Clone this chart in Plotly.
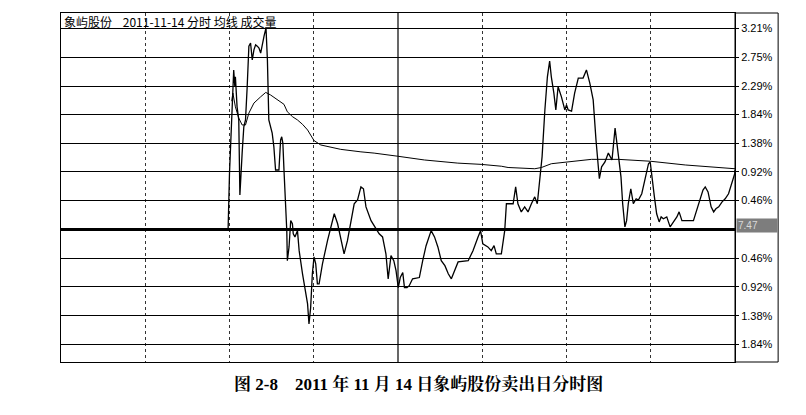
import plotly.graph_objects as go

# intraday price, % change vs previous close 7.47 (minutes from open)
price_min = [0, 59.5, 60.0, 60.8, 61.5, 61.9, 62.1, 62.7, 63.3, 63.7, 63.9, 64.5, 65.1, 65.7, 66.3, 66.9,
             67.5, 68.1, 68.7, 69.3, 69.9, 70.5, 71.1, 71.7, 72.3, 73.0, 73.5, 74.0, 75.2, 75.8, 76.4,
             77.6, 78.2, 78.6, 79.0, 79.4, 80.0, 80.4, 80.6, 81.2, 81.8, 82.4, 82.7, 83.3, 84.2, 84.8,
             86.0, 87.1, 87.8, 88.3, 88.9, 89.5, 90.1, 90.7, 91.3, 91.9, 93.1, 94.9, 96.1, 97.3, 98.5,
             99.6, 100.8, 102.0, 103.2, 104.4, 105.6, 106.8, 107.7, 108.6, 110.4, 111.5, 113.3, 114.5,
             115.7, 116.5, 117.5, 118.5, 119.3, 120.1, 120.8, 121.7, 122.3, 123.2, 124.0, 125.2, 127.6,
             128.8, 130.0, 131.8, 133.0, 134.2, 135.4, 136.7, 137.9, 139.0, 140.2, 141.4, 145.0, 146.7,
             148.5, 149.4, 150.2, 152.0, 153.2, 154.2, 155.0, 156.8, 158.0, 158.6, 161.0, 161.9, 162.7,
             163.9, 165.1, 166.3, 167.5, 168.7, 169.6, 170.5, 171.3, 172.3, 173.2, 174.0, 174.6, 175.5,
             176.2, 177.0, 178.2, 179.4, 180.0, 180.6, 181.8, 182.9, 184.2, 185.9, 187.1, 188.3, 189.5,
             190.5, 191.1, 191.7, 192.5, 193.7, 194.9, 195.5, 196.2, 197.3, 197.9, 198.5, 199.4, 200.0,
             200.8, 201.4, 202.0, 202.9, 203.8, 204.8, 205.6, 206.8, 207.9, 209.2, 209.8, 210.4, 211.3,
             212.1, 213.0, 213.7, 214.5, 215.7, 216.9, 218.1, 219.3, 220.1, 221.1, 225.2, 227.0, 228.6,
             229.4, 230.4, 231.5, 232.4, 233.2, 234.2, 235.4, 236.5, 237.7, 238.9, 239.9, 240]
price_pct = [0, 0, 0.90, 1.90, 2.55, 2.28, 2.44, 1.96, 1.75, 0.55, 0.79, 1.22, 1.64, 1.75, 2.28, 2.93,
             2.98, 2.71, 2.87, 2.95, 2.93, 2.90, 2.82, 2.98, 3.09, 3.22, 2.71, 1.75, 1.54, 1.32, 0.95,
             0.95, 1.43, 1.48, 1.38, 0.95, 0.41, -0.02, -0.50, -0.28, 0.14, 0.09, -0.07, -0.12, -0.02, -0.34,
             -0.71, -0.98, -1.19, -1.51, -1.25, -0.71, -0.44, -0.55, -0.87, -0.87, -0.55, -0.18, 0.04, 0.25, 0.09,
             -0.12, -0.39, -0.18, 0.09, 0.41, 0.47, 0.68, 0.65, 0.36, 0.14, 0.06, -0.07, -0.12,
             -0.39, -0.79, -0.42, -0.50, -0.66, -0.93, -0.77, -0.69, -0.93, -0.93, -0.90, -0.79, -0.77,
             -0.50, -0.26, -0.02, -0.12, -0.28, -0.50, -0.58, -0.71, -0.79, -0.66, -0.52, -0.50, -0.34,
             -0.12, -0.02, -0.23, -0.28, -0.34, -0.26, -0.39, -0.39, -0.02, 0.41, 0.41, 0.68, 0.41,
             0.28, 0.36, 0.28, 0.41, 0.52, 0.41, 0.79, 1.16, 1.91, 2.44, 2.69, 2.44, 2.18,
             1.91, 2.28, 2.12, 1.91, 1.99, 1.91, 1.89, 2.18, 2.42, 2.42, 2.55, 2.34, 2.07,
             1.43, 1.11, 0.81, 1.00, 1.08, 1.22, 1.16, 1.11, 1.62, 1.40, 1.16, 0.84, 0.41,
             0.04, 0.14, 0.41, 0.65, 0.41, 0.49, 0.47, 0.57, 0.79, 1.05, 1.08, 0.89, 0.52,
             0.25, 0.12, 0.20, 0.17, 0.20, 0.04, 0.12, 0.20, 0.28, 0.14, 0.14, 0.41, 0.63,
             0.68, 0.60, 0.36, 0.28, 0.33, 0.36, 0.44, 0.49, 0.57, 0.73, 0.89, 0.95]

# average price line
avg_min = [60.8, 61.2, 62.1, 63.3, 64.5, 65.7, 66.9, 68.7, 71.1, 72.9, 74.6, 77.0, 79.4, 80.6, 82.5,
           84.2, 86.0, 87.8, 90.1, 92.5, 97.3, 99.6, 106.8, 111.5, 119.9, 129.4, 141.3, 149.6, 156.8,
           159.2, 168.7, 171.1, 174.6, 180.6, 188.9, 198.5, 209.8, 222.3, 240]
avg_pct = [2.05, 2.18, 1.96, 1.78, 1.67, 1.67, 1.86, 2.02, 2.12, 2.19, 2.15, 2.08, 2.00, 1.88, 1.80,
           1.75, 1.68, 1.59, 1.42, 1.35, 1.30, 1.28, 1.24, 1.22, 1.17, 1.11, 1.06, 1.04, 1.01,
           0.99, 0.97, 0.99, 1.05, 1.08, 1.12, 1.12, 1.09, 1.03, 0.97]

tick_vals = [3.21, 2.75, 2.29, 1.84, 1.38, 0.92, 0.46, -0.46, -0.92, -1.38, -1.84]
tick_text = ["3.21%", "2.75%", "2.29%", "1.84%", "1.38%", "0.92%", "0.46%",
             "0.46%", "0.92%", "1.38%", "1.84%"]
prev_close = "7.47"
midday = 120

fig = go.Figure()
fig.add_trace(go.Scatter(x=price_min, y=price_pct, mode="lines",
                         line=dict(color="black", width=1.3), showlegend=False))
fig.add_trace(go.Scatter(x=avg_min, y=avg_pct, mode="lines",
                         line=dict(color="black", width=1), showlegend=False))

# solid midday divider
fig.add_vline(x=midday, line=dict(color="black", width=1.2))

# right-hand label column frame
fig.add_shape(type="rect", xref="paper", yref="paper", x0=1, x1=1.064, y0=0, y1=1,
              line=dict(color="black", width=1))

fig.add_annotation(text="象屿股份    2011-11-14 分时 均线 成交量", xref="paper", yref="paper",
                   x=0.002, y=1.005, xanchor="left", yanchor="top", showarrow=False,
                   font=dict(size=12, color="black", family="Noto Sans CJK SC"))
fig.add_annotation(text=prev_close, xref="paper", yref="y", x=1.001, y=0.06,
                   xanchor="left", yanchor="middle", showarrow=False, width=38, align="left",
                   bgcolor="#7d7d7d", font=dict(size=10, color="#d8d8d8", family="Liberation Sans"))
fig.add_annotation(text="<b>图 2-8    2011 年 11 月 14 日象屿股份卖出日分时图</b>",
                   xref="paper", yref="paper", x=0.53, y=-0.063, xanchor="center", yanchor="middle",
                   showarrow=False,
                   font=dict(size=17, color="black", family="Liberation Serif, Noto Serif CJK SC, Noto Sans CJK SC"))

fig.update_xaxes(range=[0, 240], tickvals=[30, 60, 90, 150, 180, 210], showticklabels=False,
                 showgrid=True, gridcolor="#333", griddash="dot", gridwidth=1,
                 showline=True, linecolor="black", linewidth=1, mirror=True, zeroline=False)
fig.update_yaxes(range=[-2.12, 3.46], side="right", tickvals=tick_vals, ticktext=tick_text,
                 ticks="outside", ticklen=3, tickcolor="black",
                 showgrid=True, gridcolor="black", gridwidth=1.3,
                 zeroline=True, zerolinecolor="black", zerolinewidth=2.5,
                 showline=True, linecolor="black", linewidth=1, mirror=True,
                 tickfont=dict(size=11, color="black", family="Liberation Sans"))

# page body adds an 8px offset, so margins are shifted to land the plot where the original sits
fig.update_layout(width=806, height=415, margin=dict(l=53, r=79, t=5, b=61),
                  plot_bgcolor="white", paper_bgcolor="white")

fig.write_html("out.html")
